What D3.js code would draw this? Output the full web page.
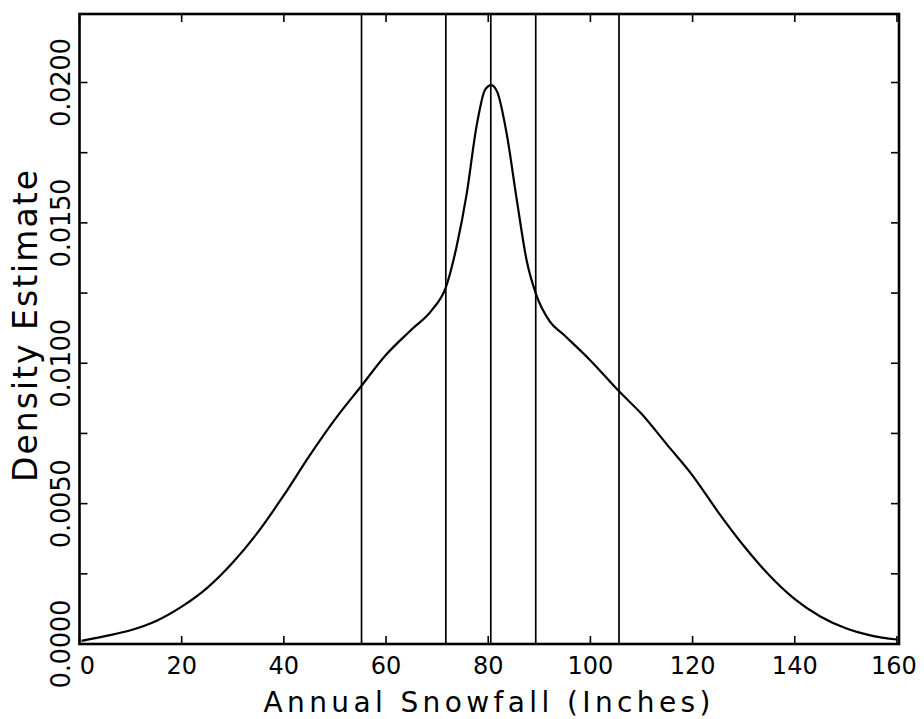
<!DOCTYPE html>
<html>
<head>
<meta charset="utf-8">
<script src="https://cdn.jsdelivr.net/npm/d3@7/dist/d3.min.js"></script>
<style>
  html, body { margin: 0; padding: 0; background: #fff; }
  svg { display: block; }
  text { font-family: "DejaVu Sans", "Liberation Sans", sans-serif; fill: #000; }
</style>
</head>
<body>
<svg id="chart" width="924" height="719"></svg>
<script>
// ---- data ----
const snowfall = [0.4, 5, 10, 15, 20, 25, 30, 35, 40, 45, 50, 55.2, 60, 65, 69, 71.7, 73.8, 75.8, 77.7, 79.4, 80.6, 81.8, 83.6, 85.6, 87.5, 89.3, 92, 95, 100, 105.6, 110, 115, 120, 125, 130, 135, 140, 145, 150, 155, 160];
const density  = [0.00011, 0.00028, 0.00049, 0.00082, 0.00133, 0.00200, 0.00290, 0.0040, 0.0053, 0.0067, 0.0080, 0.0092, 0.0103, 0.0112, 0.0119, 0.0127, 0.01415, 0.01605, 0.01843, 0.01975, 0.01991, 0.01965, 0.01819, 0.01581, 0.01368, 0.01249, 0.01150, 0.01098, 0.0101, 0.0090, 0.0082, 0.0071, 0.0060, 0.0047, 0.0035, 0.00245, 0.0016, 0.00098, 0.00056, 0.0003, 0.00016];
const quantiles = [55.2, 71.7, 80.5, 89.3, 105.6];
const xTicks = [0, 20, 40, 60, 80, 100, 120, 140, 160];
const yTicks = [0, 0.0025, 0.005, 0.0075, 0.01, 0.0125, 0.015, 0.0175, 0.02];
const yTickLabels = ["0.0000", "0.0050", "0.0100", "0.0150", "0.0200"];
const yLabelValues = [0, 0.005, 0.01, 0.015, 0.02];
const xTitle = "Annual Snowfall (Inches)";
const yTitle = "Density Estimate";

// ---- layout ----
const svg = d3.select("#chart");
const L = 79.5, R = 899, T = 14, B = 644;
const x = d3.scaleLinear().domain([0, 160.4]).range([L, R]);
const y = d3.scaleLinear().domain([0, 0.02244]).range([B, T]);
const tickLen = 8;

// frame
svg.append("rect")
  .attr("x", L).attr("y", T).attr("width", R - L).attr("height", B - T)
  .attr("fill", "none").attr("stroke", "#000").attr("stroke-width", 2.6);

// ticks (inward on all four sides)
const tk = svg.append("g").attr("stroke", "#000").attr("stroke-width", 1.6);
xTicks.forEach(v => {
  tk.append("line").attr("x1", x(v)).attr("x2", x(v)).attr("y1", B).attr("y2", B - tickLen);
  tk.append("line").attr("x1", x(v)).attr("x2", x(v)).attr("y1", T).attr("y2", T + tickLen);
});
yTicks.forEach(v => {
  tk.append("line").attr("x1", L).attr("x2", L + tickLen).attr("y1", y(v)).attr("y2", y(v));
  tk.append("line").attr("x1", R).attr("x2", R - tickLen).attr("y1", y(v)).attr("y2", y(v));
});

// x tick labels
xTicks.forEach((v, i) => {
  svg.append("text")
    .attr("x", i === 0 ? x(v) + 8 : (i === xTicks.length - 1 ? x(v) - 3 : x(v)))
    .attr("y", 674)
    .attr("text-anchor", "middle")
    .attr("font-size", 24)
    .text(String(v));
});

// y tick labels (rotated)
yLabelValues.forEach((v, i) => {
  svg.append("text")
    .attr("transform", `translate(70,${y(v)}) rotate(-90)`)
    .attr("text-anchor", "middle")
    .attr("font-size", 26)
    .attr("textLength", 89)
    .attr("lengthAdjust", "spacing")
    .text(yTickLabels[i]);
});

// axis titles
svg.append("text")
  .attr("x", 487).attr("y", 712)
  .attr("text-anchor", "middle")
  .attr("font-size", 28)
  .attr("textLength", 447)
  .attr("lengthAdjust", "spacing")
  .text(xTitle);

svg.append("text")
  .attr("transform", `translate(37,${326}) rotate(-90)`)
  .attr("text-anchor", "middle")
  .attr("font-size", 33)
  .attr("textLength", 312)
  .attr("lengthAdjust", "spacing")
  .text(yTitle);

// quantile vertical lines
svg.append("g").selectAll("line").data(quantiles).join("line")
  .attr("x1", d => x(d)).attr("x2", d => x(d))
  .attr("y1", B).attr("y2", T)
  .attr("stroke", "#000").attr("stroke-width", 1.7);

// density curve
const pts = snowfall.map((s, i) => [s, density[i]]);
const line = d3.line()
  .x(d => x(d[0])).y(d => y(d[1]))
  .curve(d3.curveMonotoneX);
svg.append("path")
  .datum(pts)
  .attr("d", line)
  .attr("fill", "none").attr("stroke", "#000").attr("stroke-width", 2.2);
</script>
</body>
</html>
